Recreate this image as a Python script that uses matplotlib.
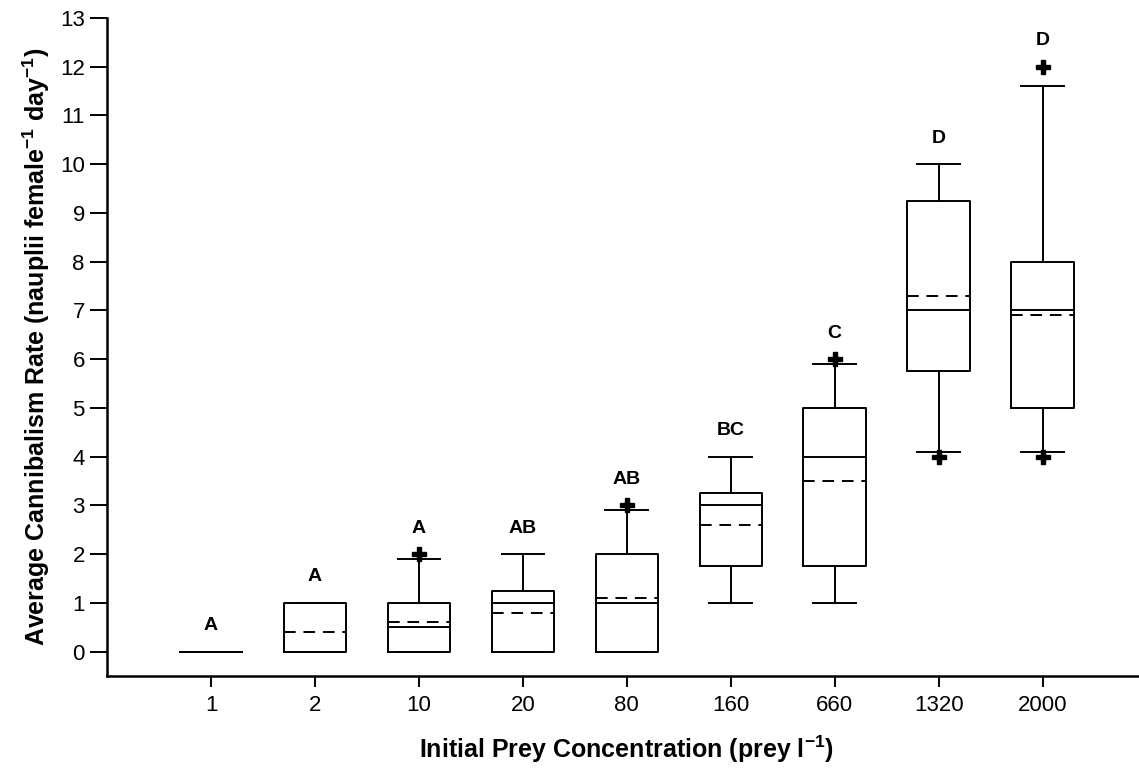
import matplotlib
matplotlib.use("Agg")
import matplotlib.pyplot as plt

plt.rcParams['font.family'] = ['Liberation Sans', 'DejaVu Sans']
plt.rcParams['mathtext.fontset'] = 'custom'
plt.rcParams['mathtext.rm'] = 'Liberation Sans'
plt.rcParams['mathtext.bf'] = 'Liberation Sans:bold'

# data
prey_conc = ['1', '2', '10', '20', '80', '160', '660', '1320', '2000']
whislo = [0, 0, 0, 0, 0, 1.0, 1.0, 4.1, 4.1]
q1 = [0, 0, 0, 0, 0, 1.75, 1.75, 5.75, 5.0]
med = [0, 0, 0.5, 1.0, 1.0, 3.0, 4.0, 7.0, 7.0]
q3 = [0, 1.0, 1.0, 1.25, 2.0, 3.25, 5.0, 9.25, 8.0]
whishi = [0, 1.0, 1.9, 2.0, 2.9, 4.0, 5.9, 10.0, 11.6]
means = [0, 0.4, 0.6, 0.8, 1.1, 2.6, 3.5, 7.3, 6.9]
outliers = [[], [], [2.0], [], [3.0], [], [6.0], [4.0], [4.0, 12.0]]
groups = ['A', 'A', 'A', 'AB', 'AB', 'BC', 'C', 'D', 'D']

stats = []
for i in range(len(prey_conc)):
    stats.append({
        'label': prey_conc[i],
        'whislo': whislo[i], 'q1': q1[i], 'med': med[i],
        'q3': q3[i], 'whishi': whishi[i],
        'mean': means[i], 'fliers': outliers[i],
    })

fig = plt.figure(figsize=(11.39, 7.79), dpi=100)
ax = fig.add_axes([0.094, 0.1322, 0.9126, 0.8447])

lw = 1.4
ax.bxp(stats, positions=range(1, 10), widths=0.6,
       showmeans=True, meanline=True,
       boxprops=dict(color='k', linewidth=lw),
       medianprops=dict(color='k', linewidth=lw),
       meanprops=dict(color='k', linewidth=lw, linestyle=(0, (6, 4))),
       whiskerprops=dict(color='k', linewidth=lw),
       capprops=dict(color='k', linewidth=lw),
       capwidths=0.41,
       flierprops=dict(marker='P', markerfacecolor='k', markeredgecolor='k',
                       markersize=10, linestyle='none'))

# significance letters above each box
for i, g in enumerate(groups):
    top = max([whishi[i]] + outliers[i])
    ax.text(i + 1, top + 0.36, g, ha='center', va='bottom',
            fontsize=14, fontweight='bold')

ax.set_xlim(0, 10)
ax.set_ylim(-0.5, 13)
ax.set_yticks(range(0, 14))
ax.tick_params(axis='both', direction='out', labelsize=16, width=1.4)
ax.tick_params(axis='y', length=12, pad=4)
ax.tick_params(axis='x', length=8, pad=6)
for s in ['top', 'right']:
    ax.spines[s].set_visible(False)
for s in ['left', 'bottom']:
    ax.spines[s].set_linewidth(1.8)

ax.set_xlabel('Initial Prey Concentration (prey l$^{\\mathbf{-1}}$)',
              fontsize=18, fontweight='bold', labelpad=12)
ax.set_ylabel('Average Cannibalism Rate (nauplii female$^{\\mathbf{-1}}$ day$^{\\mathbf{-1}}$)',
              fontsize=18, fontweight='bold', labelpad=6)

fig.savefig('out.png', dpi=100)
